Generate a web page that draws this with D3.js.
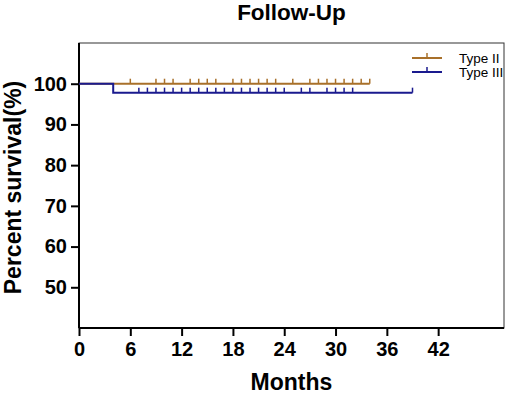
<!DOCTYPE html>
<html>
<head>
<meta charset="utf-8">
<script src="https://cdn.jsdelivr.net/npm/d3@7"></script>
<style>
  html, body { margin: 0; padding: 0; background: #fff; overflow: hidden; }
  svg { display: block; }
  text { font-family: "Liberation Sans", Arial, sans-serif; }
</style>
</head>
<body>
<svg id="chart"></svg>
<script>
// Data
const groups = ["Type II", "Type III"];
const colors = ["#a8702a", "#1a1a8e"];
// survival steps: [month, percent]
const typeIISteps = [[0, 100], [34, 100]];
const typeIIISteps = [[0, 100], [4, 97.8], [39, 97.8]];
// censored observations (months)
const typeIICensor = [6, 9, 10, 11, 13, 14, 15, 16, 18, 19, 20, 21, 22, 23, 25, 27, 28, 29, 30, 31, 32, 33, 34];
const typeIIICensor = [7, 8, 9, 10, 11, 12, 13, 14, 15, 16, 17, 18, 19, 20, 21, 22, 23, 24, 26, 27, 29, 30, 31, 32, 39];
const xTicks = [0, 6, 12, 18, 24, 30, 36, 42];
const yTicks = [50, 60, 70, 80, 90, 100];

const width = 510, height = 394;
const margin = { top: 43, right: 6, bottom: 66, left: 79 };
const innerWidth = width - margin.left - margin.right;
const innerHeight = height - margin.top - margin.bottom;

const svg = d3.select("#chart").attr("width", width).attr("height", height);
const g = svg.append("g").attr("transform", `translate(${margin.left},${margin.top})`);

const x = d3.scaleLinear().domain([0, 49.7]).range([0, innerWidth]);
const y = d3.scaleLinear().domain([40, 110]).range([innerHeight, 0]);

// frame (top / right)
g.append("rect")
  .attr("width", innerWidth).attr("height", innerHeight)
  .attr("fill", "none").attr("stroke", "#333").attr("stroke-width", 1);

// axes
const xAxis = g.append("g")
  .attr("transform", `translate(0,${innerHeight})`)
  .call(d3.axisBottom(x).tickValues(xTicks).tickSize(8).tickPadding(6).tickSizeOuter(0));
const yAxis = g.append("g")
  .call(d3.axisLeft(y).tickValues(yTicks).tickSize(8).tickPadding(4).tickSizeOuter(0));

[xAxis, yAxis].forEach(a => {
  a.attr("font-size", 20)
    .attr("font-family", "Liberation Sans, Arial, sans-serif")
    .attr("font-weight", "bold");
  a.select(".domain").attr("stroke", "#000").attr("stroke-width", 2);
  a.selectAll(".tick line").attr("stroke", "#000").attr("stroke-width", 2);
  a.selectAll("text").attr("fill", "#000");
});
xAxis.select(".domain").attr("d", `M0,0H${innerWidth}`);
yAxis.select(".domain").attr("d", `M0,${innerHeight}V0`);

// survival curves
const stepLine = d3.line().x(d => x(d[0])).y(d => y(d[1])).curve(d3.curveStepAfter);
const series = [
  { steps: typeIISteps, censor: typeIICensor },
  { steps: typeIIISteps, censor: typeIIICensor }
];

function levelAt(steps, t) {
  let v = steps[0][1];
  steps.forEach(s => { if (s[0] <= t) v = s[1]; });
  return v;
}

series.forEach((s, i) => {
  g.append("path")
    .attr("d", stepLine(s.steps))
    .attr("fill", "none")
    .attr("stroke", colors[i])
    .attr("stroke-width", 2);

  // censor marks
  g.selectAll(null)
    .data(s.censor)
    .enter()
    .append("line")
    .attr("x1", d => x(d)).attr("x2", d => x(d))
    .attr("y1", d => y(levelAt(s.steps, d)))
    .attr("y2", d => y(levelAt(s.steps, d)) - 5)
    .attr("stroke", colors[i])
    .attr("stroke-width", 1.5);
});

// legend
const legend = svg.append("g").attr("transform", "translate(412,58)");
groups.forEach((name, i) => {
  const row = legend.append("g").attr("transform", `translate(0,${i * 14})`);
  row.append("line").attr("x1", 0).attr("x2", 30).attr("y1", 0).attr("y2", 0)
    .attr("stroke", colors[i]).attr("stroke-width", 2);
  row.append("line").attr("x1", 15).attr("x2", 15).attr("y1", 0).attr("y2", -5)
    .attr("stroke", colors[i]).attr("stroke-width", 1.5);
  row.append("text").attr("x", 47).attr("y", 4.5)
    .style("font-size", "13.5px").attr("fill", "#000").text(name);
});

// titles
svg.append("text")
  .attr("x", margin.left + innerWidth / 2).attr("y", 20)
  .attr("text-anchor", "middle")
  .style("font-size", "22.5px").style("font-weight", "bold")
  .text("Follow-Up");

svg.append("text")
  .attr("x", margin.left + innerWidth / 2).attr("y", 390)
  .attr("text-anchor", "middle")
  .style("font-size", "23px").style("font-weight", "bold")
  .text("Months");

svg.append("text")
  .attr("transform", `translate(21,${margin.top + innerHeight / 2 + 2}) rotate(-90)`)
  .attr("text-anchor", "middle")
  .style("font-size", "23px").style("font-weight", "bold")
  .text("Percent survival(%)");
</script>
</body>
</html>
